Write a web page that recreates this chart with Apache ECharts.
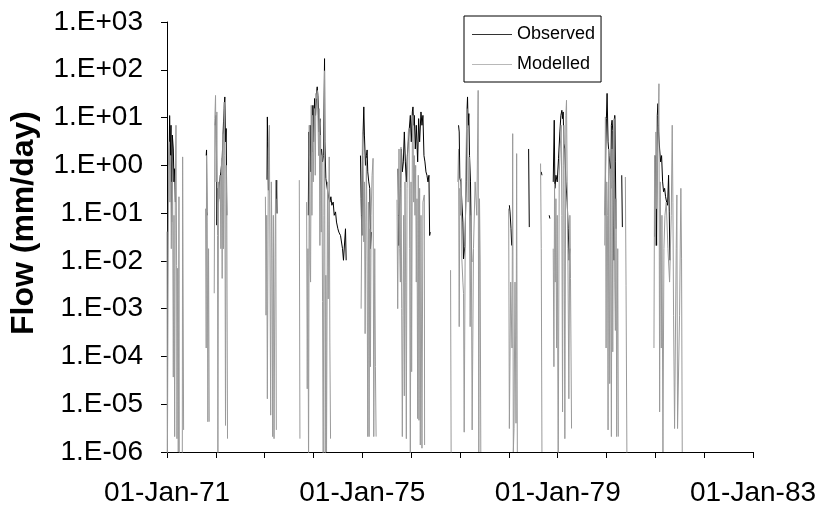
<!DOCTYPE html>
<html>
<head>
<meta charset="utf-8">
<script src="https://cdn.jsdelivr.net/npm/echarts@6/dist/echarts.min.js"></script>
<style>
  html, body { margin: 0; padding: 0; background: #fff; }
  #chart { width: 822px; height: 514px; }
</style>
</head>
<body>
<div id="chart"></div>
<script>
// Decimal year, flow (mm/day); null = no flow (gap)
const observed = [
  [1971.041,1.0],[1971.054,11],[1971.068,1.6],[1971.082,6.9],[1971.095,0.065],[1971.109,4.3],[1971.129,2.2],[1971.143,0.45],[1971.157,0.85],[1971.170,0.17], null,
  [1971.803,1.6],[1971.810,2.1],[1971.817,0.106],[1971.824,0.09], null,
  [1971.987,6.9],[1972.001,11.1],[1972.014,1.6],[1972.021,0.056],[1972.035,0.33],[1972.055,0.17],[1972.076,0.45],[1972.103,0.73],[1972.130,1.4],[1972.157,8.1],[1972.171,15.4],[1972.184,27],[1972.198,3.1],[1972.212,5.9],[1972.225,0.09], null,
  [1973.048,0.5],[1973.055,10.3],[1973.062,3.1],[1973.069,0.8],[1973.076,0.3], null,
  [1973.239,0.2],[1973.246,0.49],[1973.253,0.098], null,
  [1973.893,0.09],[1973.906,5.0],[1973.920,1.6],[1973.933,6.9],[1973.947,0.73],[1973.961,11.1],[1973.974,1.9],[1973.988,18],[1974.002,3.1],[1974.022,25],[1974.042,11.1],[1974.063,34],[1974.076,44],[1974.090,29],[1974.110,5.0],[1974.131,9.5],[1974.145,1.6],[1974.165,2.2],[1974.185,1.18],[1974.206,1.6],[1974.226,171],[1974.233,3.1],[1974.253,0.53],[1974.281,0.33],[1974.308,0.22],[1974.335,0.17],[1974.356,0.22],[1974.376,0.146],[1974.403,0.17],[1974.424,0.09],[1974.451,0.106],[1974.471,0.065],[1974.499,0.047],[1974.519,0.040],[1974.553,0.034],[1974.594,0.018],[1974.614,0.0103],[1974.642,0.0103],[1974.655,0.047],[1974.669,0.0103], null,
  [1974.962,1.6],[1974.975,0.2],[1974.989,0.034],[1975.003,1.6],[1975.016,5.0],[1975.030,16.7],[1975.043,4.3],[1975.064,1.0],[1975.084,1.6],[1975.098,2.1],[1975.111,0.73],[1975.132,0.45],[1975.152,0.33],[1975.166,0.018],[1975.186,0.04], null,
  [1975.731,0.85],[1975.745,0.021],[1975.758,0.09],[1975.779,0.33],[1975.799,2.2],[1975.819,0.73],[1975.840,1.18],[1975.860,5.0],[1975.881,1.18],[1975.901,0.45],[1975.922,1.6],[1975.942,3.1],[1975.962,5.9],[1975.983,11.1],[1976.003,3.1],[1976.024,13.1],[1976.037,16.7],[1976.051,6.9],[1976.064,11.1],[1976.085,2.2],[1976.105,6.9],[1976.133,1.18],[1976.153,9.5],[1976.173,3.1],[1976.201,13.1],[1976.221,6.9],[1976.241,11.1],[1976.262,1.6],[1976.282,1.18],[1976.303,0.73],[1976.323,0.62],[1976.344,0.45],[1976.364,0.62],[1976.378,0.034],[1976.391,0.04], null,
  [1976.970,6.9],[1976.984,5.0],[1976.997,0.53],[1977.018,0.45],[1977.038,0.17],[1977.059,0.065],[1977.072,0.011],[1977.100,0.02],[1977.127,0.45],[1977.140,11.1],[1977.154,27],[1977.167,6.9],[1977.181,12.1],[1977.195,1.6],[1977.215,0.45],[1977.229,0.04],[1977.242,0.0095], null,
  [1978.011,0.146],[1978.024,0.106],[1978.045,0.047],[1978.058,0.021], null,
  [1978.405,2.2],[1978.419,0.051], null,
  [1978.664,0.73],[1978.678,0.62], null,
  [1978.827,0.09],[1978.841,0.077], null,
  [1978.909,0.45],[1978.930,8.8],[1978.943,0.33],[1978.964,0.62],[1978.991,0.45],[1979.018,1.4],[1979.045,5.0],[1979.066,11.1],[1979.086,14.2],[1979.100,9.5],[1979.113,13.1],[1979.127,2.9],[1979.147,2.2],[1979.168,0.45],[1979.195,0.17],[1979.216,0.047],[1979.236,0.0103],[1979.250,0.018], null,
  [1979.971,0.09],[1979.985,2.2],[1979.998,9.5],[1980.012,32],[1980.032,3.1],[1980.053,1.6],[1980.073,0.92],[1980.087,0.33],[1980.100,6.9],[1980.114,8.8],[1980.128,5.4],[1980.141,0.056],[1980.155,0.0103],[1980.169,11.1],[1980.182,1.18],[1980.196,0.047], null,
  [1980.312,0.62],[1980.325,0.051], null,
  [1980.985,0.032],[1980.999,1.6],[1981.013,0.33],[1981.026,0.021],[1981.040,11.1],[1981.054,19.6],[1981.067,5.0],[1981.088,2.2],[1981.108,1.18],[1981.128,1.6],[1981.149,0.45],[1981.169,0.28],[1981.190,0.33],[1981.210,0.22],[1981.231,0.17],[1981.251,0.146],[1981.271,0.62],[1981.285,0.106],[1981.299,0.0103]
];

const modelled = [
  [1971.000,0.041],[1971.007,3e-7],[1971.020,1.0e-3],[1971.034,1.6],[1971.048,3.1],[1971.061,0.17],[1971.075,1.6],[1971.088,0.018],[1971.102,0.45],[1971.116,0.17],[1971.129,3.7e-5],[1971.143,0.09],[1971.157,2.1e-6],[1971.170,0.33],[1971.184,6.9],[1971.197,0.0081],[1971.204,1.9e-6],[1971.218,0.007],[1971.231,1.0e-6],[1971.245,0.22],[1971.252,1.0e-6],[1971.313,3e-7],[1971.320,1.5],[1971.340,2.9e-6], null,
  [1971.790,0.124],[1971.803,1.5e-4],[1971.810,1.6],[1971.824,0.065],[1971.837,4.3e-6],[1971.851,0.018],[1971.865,4.3e-6], null,
  [1971.967,0.0021],[1971.980,9.5],[1971.994,29],[1972.007,0.45],[1972.021,13.1],[1972.035,0.034],[1972.042,3e-7],[1972.055,0.45],[1972.069,0.2],[1972.089,0.62],[1972.103,0.018],[1972.116,1.4],[1972.130,0.0043],[1972.144,4.6],[1972.157,0.018],[1972.171,21],[1972.184,1.6],[1972.198,3.6e-6],[1972.212,1.0],[1972.225,0.083],[1972.239,1.9e-6], null,
  [1973.015,0.22],[1973.028,7.3e-4],[1973.042,0.09],[1973.055,1.3e-5],[1973.076,2.2],[1973.096,6.9],[1973.110,7.5],[1973.123,5.9e-6],[1973.137,0.45],[1973.151,0.011],[1973.164,2.1e-6],[1973.178,0.09],[1973.192,1.9e-6],[1973.212,0.012],[1973.226,0.49],[1973.239,2.9e-6], null,
  [1973.709,0.49],[1973.722,1.9e-6], null,
  [1973.859,0.17],[1973.872,2.1e-5],[1973.886,0.018],[1973.899,3e-7],[1973.913,6.9],[1973.927,0.0095],[1973.940,0.0036],[1973.954,18],[1973.968,0.09],[1973.981,11.1],[1973.995,0.45],[1974.008,5.0],[1974.022,15.4],[1974.036,0.62],[1974.049,32],[1974.063,25],[1974.076,37],[1974.090,11.1],[1974.104,1.6],[1974.117,15.4],[1974.131,0.021],[1974.145,4.3],[1974.158,0.04],[1974.172,1.6],[1974.185,0.0014],[1974.199,3e-7],[1974.213,0.09],[1974.226,95],[1974.240,3e-7],[1974.253,0.005],[1974.267,1.0e-6],[1974.287,0.45],[1974.301,0.0016],[1974.322,1.5],[1974.335,2.0e-4],[1974.349,1.9e-6], null,
  [1974.975,1.0e-3],[1974.989,0.09],[1975.003,4.6],[1975.016,1.6],[1975.030,0.025],[1975.043,0.45],[1975.057,3.0e-4],[1975.071,0.065],[1975.084,1.4],[1975.098,0.0095],[1975.111,2.1e-6],[1975.125,0.17],[1975.139,2.1e-6],[1975.152,0.047],[1975.166,6.1e-5],[1975.179,0.09],[1975.200,0.62],[1975.220,1.4],[1975.234,2.1e-6],[1975.254,0.018],[1975.268,6.1e-5],[1975.282,2.1e-6], null,
  [1975.710,0.19],[1975.724,1.0e-3],[1975.738,0.09],[1975.751,2.2],[1975.765,0.018],[1975.779,0.0036],[1975.792,2.4],[1975.806,1.0e-3],[1975.819,2.1e-6],[1975.833,7.3e-4],[1975.847,0.09],[1975.860,1.5e-5],[1975.874,0.45],[1975.887,0.0036],[1975.901,1.9e-6],[1975.915,0.33],[1975.928,1.6],[1975.942,5.0],[1975.956,5.9],[1975.969,0.018],[1975.983,3e-7],[1975.997,0.45],[1976.010,4.8e-5],[1976.024,3.1],[1976.037,11.1],[1976.051,0.17],[1976.064,1.6],[1976.078,0.09],[1976.092,1.0],[1976.105,0.0036],[1976.119,0.2],[1976.133,5.0e-6],[1976.146,0.62],[1976.160,4.6e-6],[1976.173,0.33],[1976.187,1.4e-6],[1976.201,0.09],[1976.221,1.2e-6],[1976.241,0.17],[1976.269,0.24],[1976.275,1.4e-6], null,
  [1976.807,0.0064],[1976.820,3e-7], null,
  [1976.956,0.45],[1976.970,2.2],[1976.984,4.2e-4],[1976.997,0.33],[1977.011,0.09],[1977.025,0.53],[1977.038,0.011],[1977.059,0.0036],[1977.072,0.0021],[1977.086,2.6e-6],[1977.106,0.018],[1977.127,2.2],[1977.140,15.4],[1977.154,5.9],[1977.167,0.17],[1977.188,1.5],[1977.208,4.2e-4],[1977.229,0.09],[1977.249,2.9e-6],[1977.276,0.018],[1977.310,0.45],[1977.344,0.09],[1977.372,37],[1977.385,1.0e-6],[1977.399,0.2],[1977.413,0.0095],[1977.426,1.0e-6], null,
  [1977.997,0.124],[1978.011,3.1e-6],[1978.038,0.0036],[1978.065,1.5e-4],[1978.079,4.6],[1978.092,1.0e-6],[1978.106,3.1e-6],[1978.126,0.0036],[1978.147,4.0e-6],[1978.160,1.76],[1978.174,1.0e-6], null,
  [1978.650,1.09],[1978.664,0.018],[1978.678,1.0e-6], null,
  [1978.909,0.018],[1978.923,6.1e-5],[1978.936,0.41],[1978.950,0.0036],[1978.964,0.2],[1978.977,1.5e-4],[1978.991,0.09],[1979.011,3e-7],[1979.032,0.62],[1979.052,2.2],[1979.073,6.9],[1979.086,0.09],[1979.100,6.9e-6],[1979.113,1.0],[1979.127,6.9],[1979.147,1.9e-6],[1979.168,11.1],[1979.181,23],[1979.195,0.45],[1979.209,0.018],[1979.229,1.3e-5],[1979.250,0.09],[1979.263,0.0043],[1979.284,3.1e-6], null,
  [1979.964,0.021],[1979.978,10.3],[1979.992,1.5e-4],[1980.005,0.45],[1980.019,0.09],[1980.032,2.9e-6],[1980.046,2.2],[1980.066,2.7e-5],[1980.080,0.85],[1980.100,2.1e-6],[1980.114,2.2],[1980.128,1.25e-4],[1980.141,0.45],[1980.155,9.5],[1980.169,0.0036],[1980.182,3.5e-4],[1980.196,0.2],[1980.209,2.1e-6],[1980.230,0.018],[1980.243,2.1e-6], null,
  [1980.386,0.57],[1980.400,0.0031],[1980.420,3e-7], null,
  [1980.972,1.5e-4],[1980.985,1.6],[1980.999,0.021],[1981.013,5.0],[1981.026,0.124],[1981.047,2.2],[1981.060,6.9],[1981.074,51],[1981.088,6.9e-6],[1981.101,0.45],[1981.122,1.5e-4],[1981.135,0.09],[1981.156,1.0e-6],[1981.176,0.018],[1981.197,0.09],[1981.224,0.17],[1981.258,0.018],[1981.292,0.0036],[1981.326,0.09],[1981.346,6.9],[1981.360,0.17],[1981.373,7.3e-4],[1981.394,3.1e-6],[1981.414,3.1e-6],[1981.428,0.018],[1981.441,0.24],[1981.455,3.1e-6],[1981.496,7.3e-4],[1981.523,0.33],[1981.537,0.011],[1981.551,1.0e-6]
];

const seriesNames = ['Observed', 'Modelled'];
const seriesColors = ['#000000', '#9a9a9a'];
const legendColors = ['#333333', '#b8b8b8'];
const yearRange = [1971, 1983];
const flowRange = [1e-6, 1e3];
const yTitle = 'Flow (mm/day)';

const FONT = '"Liberation Sans", Arial, sans-serif';
const toData = arr => arr.map(p => p === null ? ['-', '-'] : p);

const chart = echarts.init(document.getElementById('chart'), null, { renderer: 'canvas' });
chart.setOption({
  animation: false,
  backgroundColor: '#ffffff',
  grid: { left: 166, right: 69, top: 22, bottom: 62, containLabel: false },
  legend: {
    orient: 'vertical',
    left: 464, top: 16,
    borderColor: '#000', borderWidth: 1,
    padding: [9, 6, 8, 8],
    icon: 'rect',
    itemWidth: 40, itemHeight: 1, itemGap: 11,
    textStyle: { fontFamily: FONT, fontSize: 18, color: '#000', lineHeight: 19 },
    data: seriesNames.map((n, i) => ({ name: n, itemStyle: { color: legendColors[i] } }))
  },
  xAxis: {
    type: 'value',
    min: yearRange[0], max: yearRange[1], interval: 1,
    axisLine: { show: true, onZero: false, lineStyle: { color: '#000', width: 1 } },
    axisTick: { show: true, length: 6, lineStyle: { color: '#000' } },
    splitLine: { show: false },
    axisLabel: {
      interval: 0, margin: 27, fontFamily: FONT, fontSize: 28, color: '#000',
      formatter: v => ((Math.round(v) - yearRange[0]) % 4 === 0) ? '01-Jan-' + String(Math.round(v)).slice(2) : ''
    }
  },
  yAxis: {
    type: 'log', logBase: 10,
    min: flowRange[0], max: flowRange[1],
    axisLine: { show: true, lineStyle: { color: '#000', width: 1 } },
    axisTick: { show: true, length: 6, lineStyle: { color: '#000' } },
    splitLine: { show: false },
    axisLabel: {
      margin: 24, fontFamily: FONT, fontSize: 28, color: '#000',
      formatter: v => {
        const e = Math.round(Math.log10(v));
        return '1.E' + (e < 0 ? '-' : '+') + String(Math.abs(e)).padStart(2, '0');
      }
    },
    name: yTitle,
    nameLocation: 'middle',
    nameGap: 127,
    nameTextStyle: { fontFamily: FONT, fontSize: 32, fontWeight: 'bold', color: '#000', padding: [0, 0, 0, 28] }
  },
  series: [
    {
      name: seriesNames[0], type: 'line', data: toData(observed),
      symbol: 'none', connectNulls: false, clip: true, z: 2,
      lineStyle: { color: seriesColors[0], width: 1 }, itemStyle: { color: seriesColors[0] }
    },
    {
      name: seriesNames[1], type: 'line', data: toData(modelled),
      symbol: 'none', connectNulls: false, clip: true, z: 3,
      lineStyle: { color: seriesColors[1], width: 1 }, itemStyle: { color: seriesColors[1] }
    }
  ]
});
</script>
</body>
</html>
